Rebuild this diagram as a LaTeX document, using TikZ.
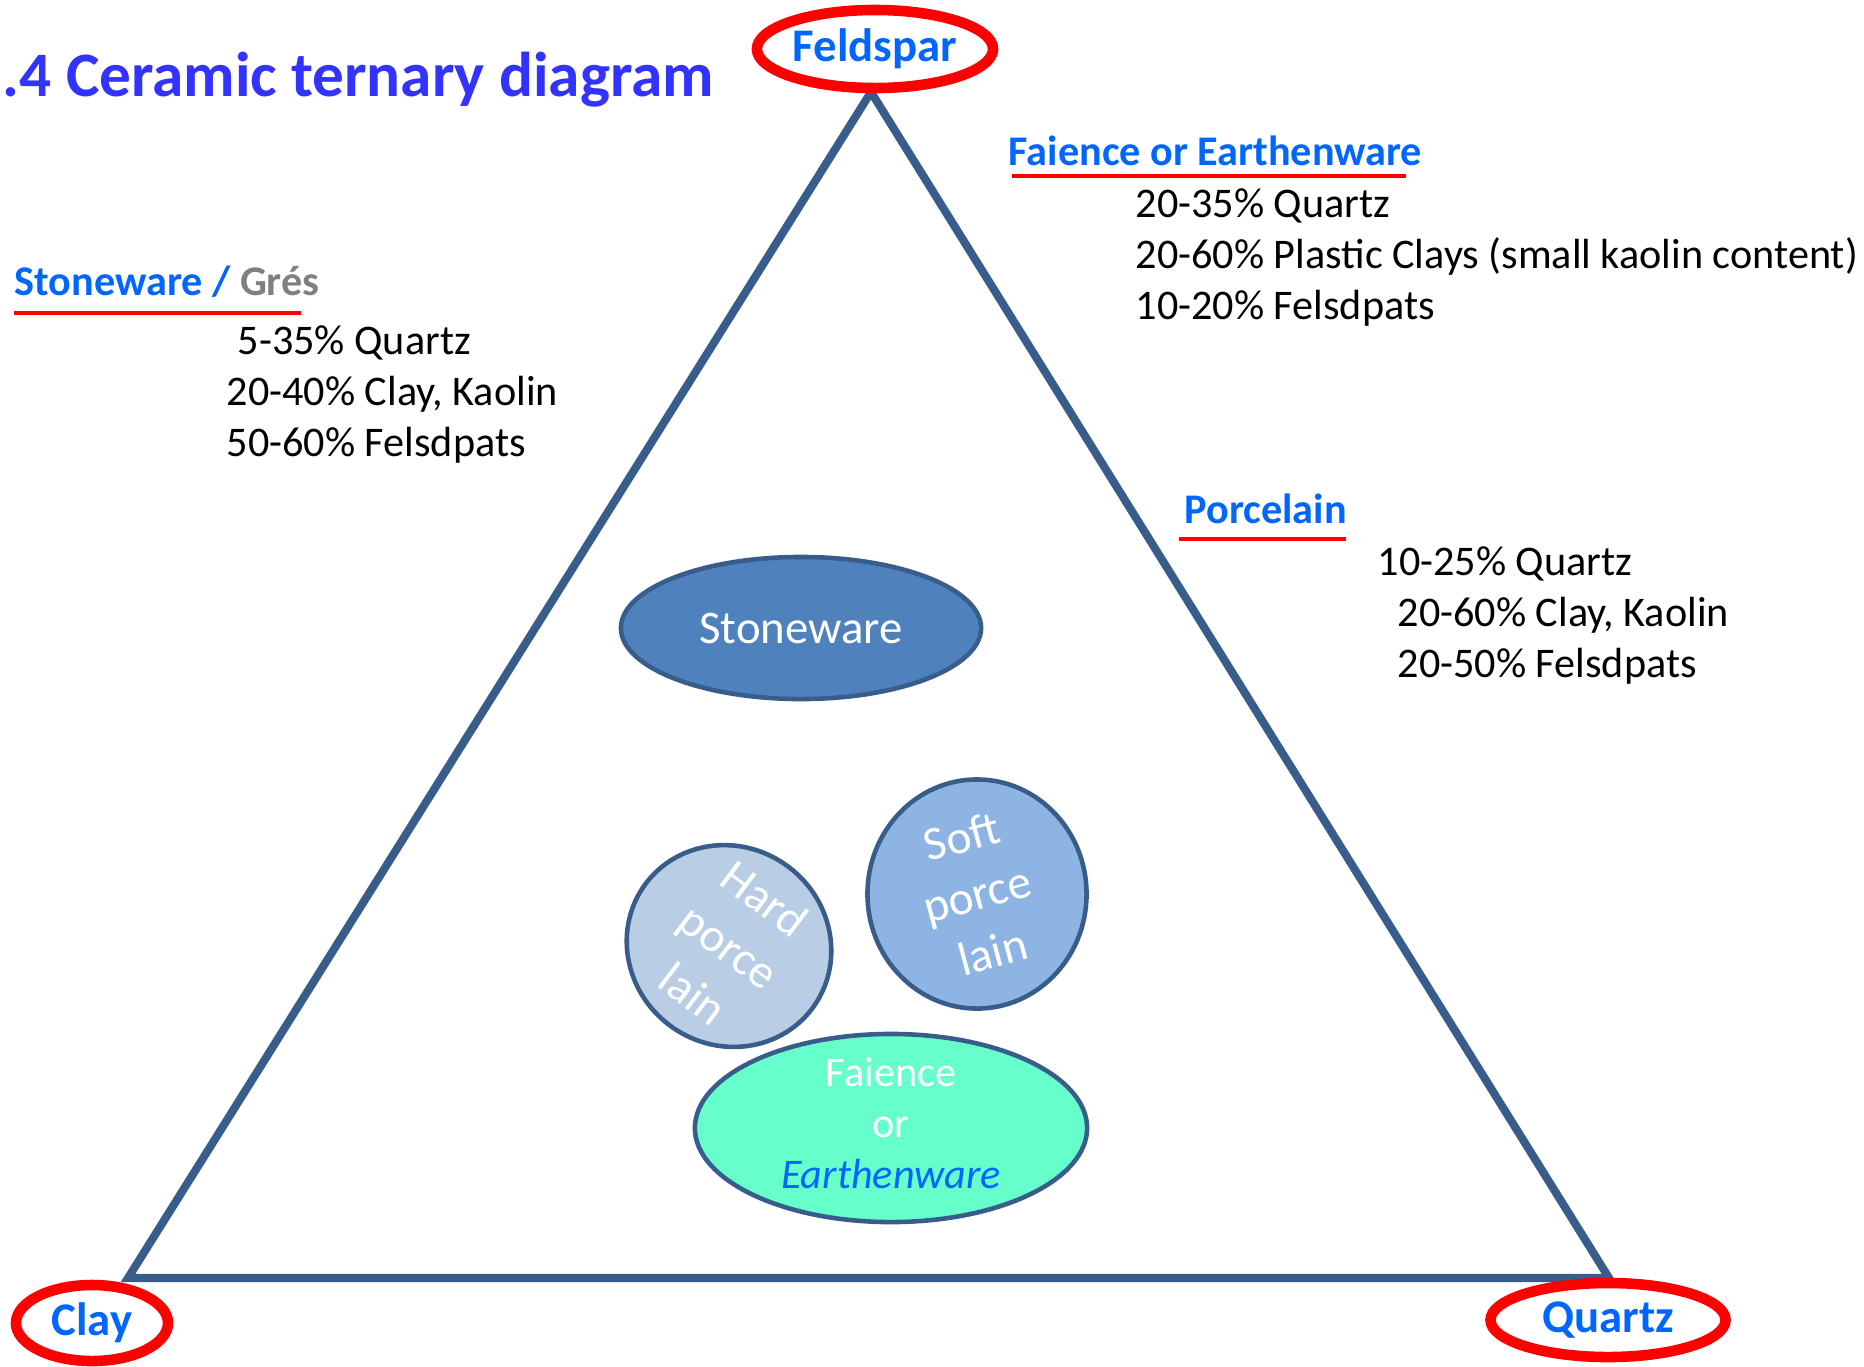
\documentclass[tikz,border=0pt]{standalone}
\usepackage{fontspec}
\setmainfont{Carlito}
\usetikzlibrary{shapes.geometric}

\definecolor{titleblue}{RGB}{51,51,255}
\definecolor{headblue}{RGB}{0,102,255}
\definecolor{markred}{RGB}{255,0,0}
\definecolor{edgeblue}{RGB}{56,93,138}
\definecolor{stonefill}{RGB}{79,129,189}
\definecolor{softfill}{RGB}{142,180,227}
\definecolor{hardfill}{RGB}{185,205,229}
\definecolor{faiencefill}{RGB}{102,255,204}
\definecolor{gresgray}{RGB}{128,128,128}

\begin{document}
\begin{tikzpicture}[x=0.01cm, y=-0.01cm,
  endmember/.style={ellipse, draw=markred, line width=3pt, inner sep=0pt, text=headblue, font=\fontsize{13.3}{16}\selectfont\bfseries},
  bubble/.style={ellipse, draw=edgeblue, line width=1.3pt, inner sep=0pt, text=white},
  bubbletext/.style={align=center, inner sep=0pt, text=white, font=\fontsize{13.5}{17}\selectfont},
  headtext/.style={anchor=base west, inner sep=0pt, text=headblue, font=\fontsize{12}{14.5}\selectfont\bfseries},
  bodytext/.style={anchor=base west, inner sep=0pt, font=\fontsize{12}{14.5}\selectfont},
  redrule/.style={draw=markred, line width=1.4pt}]

\useasboundingbox (0,0) rectangle (1864,1366);

\node [anchor=base west, inner sep=0pt, text=titleblue, font=\fontsize{18}{22}\selectfont\bfseries] (title) at (2,96) {.4 Ceramic ternary diagram};

% triangle
\coordinate (corner-f) at (871,92);
\coordinate (corner-c) at (128,1278);
\coordinate (corner-q) at (1609,1278);
\draw [edgeblue, line width=2.3pt] (corner-f) -- (corner-c) -- (corner-q) -- cycle;

\foreach \n/\t/\x/\y/\w/\h in {feldspar/Feldspar/875/49/2.36/0.78, clay/Clay/92/1323/1.52/0.76, quartz/Quartz/1608/1320/2.35/0.74}
  \node [endmember, minimum width=\w cm, minimum height=\h cm] (\n) at (\x,\y) {\t};

% faience / earthenware
\node [headtext] (faience-head) at (1008,165) {Faience or Earthenware};
\draw [redrule] (1012,176) -- (1406,176);
\foreach \t [count=\i] in {20-35\% Quartz, 20-60\% Plastic Clays (small kaolin content), 10-20\% Felsdpats}
  \node [bodytext] (faience-\i) at (1135,166+51*\i) {\t};

% stoneware
\node [headtext] (stone-head) at (14,295) {Stoneware / \textcolor{gresgray}{Grés}};
\draw [redrule] (14,313) -- (301,313);
\foreach \x/\t [count=\i] in {237/5-35\% Quartz, 226/{20-40\% Clay, Kaolin}, 226/50-60\% Felsdpats}
  \node [bodytext] (stone-\i) at (\x,303+51*\i) {\t};

% porcelain
\node [headtext] (porcelain-head) at (1184,523) {Porcelain};
\draw [redrule] (1179,539) -- (1346,539);
\foreach \x/\t [count=\i] in {1377/10-25\% Quartz, 1397/{20-60\% Clay, Kaolin}, 1397/20-50\% Felsdpats}
  \node [bodytext] (porcelain-\i) at (\x,524+51*\i) {\t};

% bubbles
\node [bubble, fill=stonefill, minimum width=3.6cm, minimum height=1.42cm, font=\fontsize{13.3}{16}\selectfont] (stoneware) at (801,628) {Stoneware};
\node [bubble, fill=hardfill, minimum width=2.08cm, minimum height=1.98cm, rotate=-37] (hard) at (729,946) {};
\node [bubbletext, rotate=-37] (hard-text) at (hard.center) {Hard\\porce\\lain};
\node [bubble, fill=softfill, minimum width=2.19cm, minimum height=2.29cm] (soft) at (977,894) {};
\node [bubbletext, rotate=15] (soft-text) at (soft.center) {Soft\\porce\\lain};
\node [bubble, fill=faiencefill, minimum width=3.92cm, minimum height=1.88cm] (faience) at (891,1128) {};
\node [bubbletext, font=\fontsize{12}{14.5}\selectfont] (faience-text) at (891,1123) {Faience\\or\\\textcolor{headblue}{\itshape Earthenware}};

\end{tikzpicture}
\end{document}
